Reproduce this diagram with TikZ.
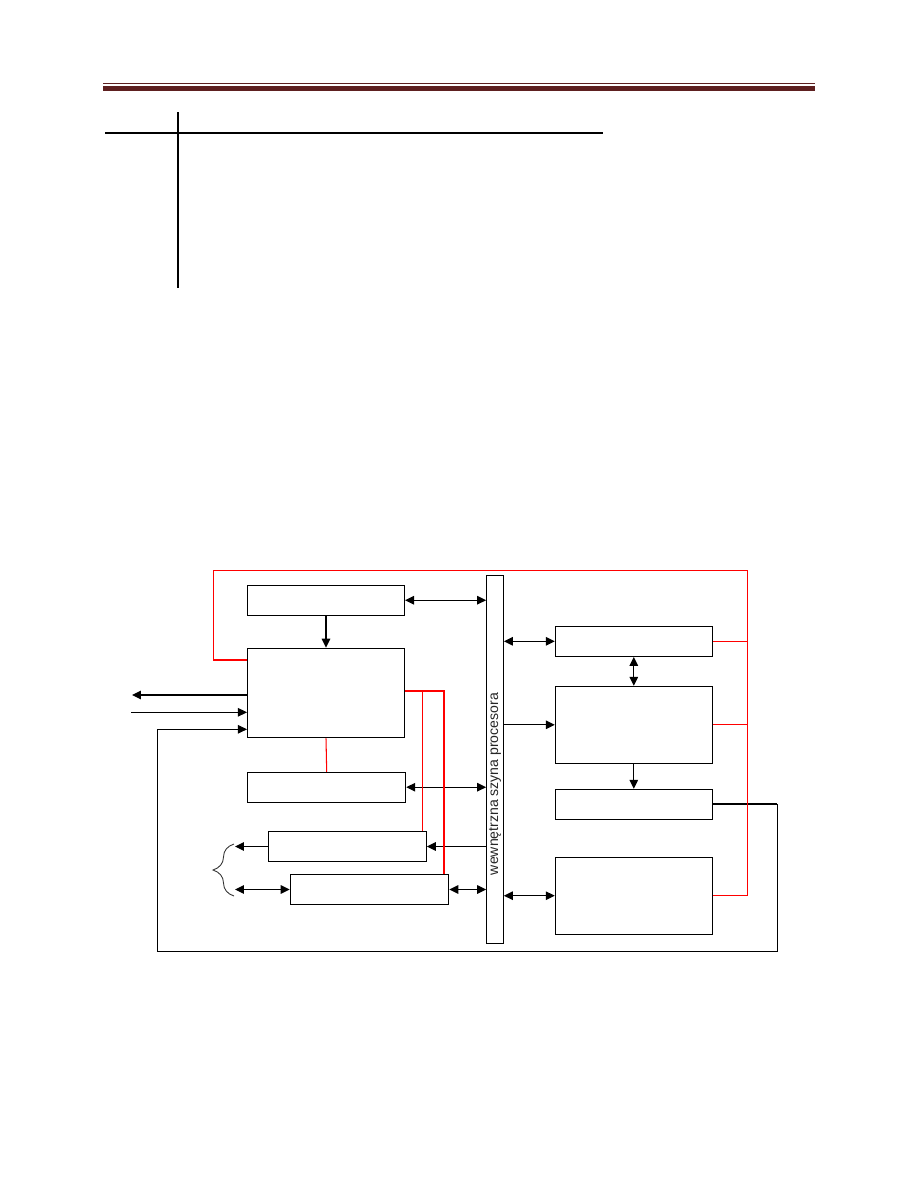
\documentclass[tikz,border=0pt]{standalone}
\usepackage{fontspec}
\setmainfont{Liberation Sans}
\usetikzlibrary{arrows.meta,decorations.pathreplacing}
\definecolor{headred}{RGB}{94,32,32}
\tikzset{
  block/.style={draw,line width=0.6pt,minimum width=3.14cm,inner sep=0pt},
  link/.style={line width=0.7pt,-{Triangle[length=1.8mm,width=1.7mm]}},
  dlink/.style={line width=0.7pt,{Triangle[length=1.8mm,width=1.7mm]}-{Triangle[length=1.8mm,width=1.7mm]}},
  redline/.style={red,line width=0.6pt},
  redthick/.style={red,line width=1pt}
}
\begin{document}
\begin{tikzpicture}[x=0.02cm,y=-0.02cm]
  \useasboundingbox (0,0) rectangle (918,1188);

  % Header
  \draw[headred,line width=0.5pt] (103,83) -- (815,83);
  \fill[headred] (103,86) rectangle (815,90.5);
  \draw[line width=1pt] (178,112) -- (178,288);
  \draw[line width=0.8pt] (105,133) -- (603,133);

  % Blocks
  \node[block,minimum height=0.594cm] (A) at (326,600.2) {};
  \node[block,minimum height=1.79cm] (B) at (326,693) {};
  \node[block,minimum height=0.594cm,minimum width=3.16cm] (C) at (326.7,787.2) {};
  \node[block,minimum height=0.594cm,minimum width=3.16cm] (D) at (347.3,846.5) {};
  \node[block,minimum height=0.594cm,minimum width=3.17cm] (E) at (369.5,889.5) {};
  \node[block,minimum height=0.6cm] (F) at (633.8,641.3) {};
  \node[block,minimum height=1.54cm] (G) at (633.8,724.8) {};
  \node[block,minimum height=0.6cm] (H) at (633.8,804.3) {};
  \node[block,minimum height=1.534cm] (I) at (633.8,895.7) {};
  \node[draw,line width=0.6pt,minimum width=0.332cm,minimum height=7.36cm,inner sep=0pt] (bus) at (495,759.3) {};
  \node[rotate=90,font=\fontsize{8}{9}\selectfont,text=black!85] (busname) at (495,784) {wewnętrzna szyna procesora};

  % Coordinates
  \coordinate (Po) at (132,695);
  \coordinate (Pi) at (131,712.3);
  \coordinate (Fl) at (157.3,729.3);
  \coordinate (Fb) at (777,951);
  \coordinate (Rl) at (213.3,660.3);
  \coordinate (Rr) at (747.3,570.3);
  \coordinate (Ra) at (422.3,690.7);
  \coordinate (Rb) at (444,690.7);
  \coordinate (Lo) at (235,0);

  % Bus links
  \draw[dlink] (A.east) -- (A.east -| bus.west);
  \draw[dlink] (C.east) -- (C.east -| bus.west);
  \draw[link] (D.east -| bus.west) -- (D.east);
  \draw[dlink] (E.east) -- (E.east -| bus.west);
  \draw[dlink] (F.west -| bus.east) -- (F.west);
  \draw[link] (G.west -| bus.east) -- (G.west);
  \draw[dlink] (I.west -| bus.east) -- (I.west);

  % Block links
  \draw[link] (A.south) -- (B.north);
  \draw[dlink] (F.south) -- (G.north);
  \draw[link] (G.south) -- (H.north);
  \draw[link] (Po -| B.west) -- (Po);
  \draw[link] (Pi) -- (Pi -| B.west);
  \draw[link] (D.west) -- (D.west -| Lo);
  \draw[dlink] (E.west -| Lo) -- (E.west);
  \draw[decorate,decoration={brace,amplitude=0.42cm},line width=0.5pt,black!80] (234,896) -- (234,844);

  % Feedback loop
  \draw[line width=1.2pt] (H.east) -- (H.east -| Fb);
  \draw[link,line width=0.5pt] (H.east -| Fb) -- (Fb) -| (Fl) -- (Fl -| B.west);

  % Red lines
  \draw[redline] (Rl -| B.west) -- (Rl) |- (Rr) -- (Rr |- I.east) -- (I.east);
  \draw[redthick] (Rl -| B.west) -- (Rl);
  \draw[redline] (F.east) -- (F.east -| Rr);
  \draw[redline] (G.east) -- (G.east -| Rr);
  \draw[redthick] (Rb -| B.east) -- (Rb) -- (Rb |- E.north);
  \draw[redline] (Ra) -- (Ra |- D.north);
  \draw[redline] (B.south) -- (C.north);
\end{tikzpicture}
\end{document}
